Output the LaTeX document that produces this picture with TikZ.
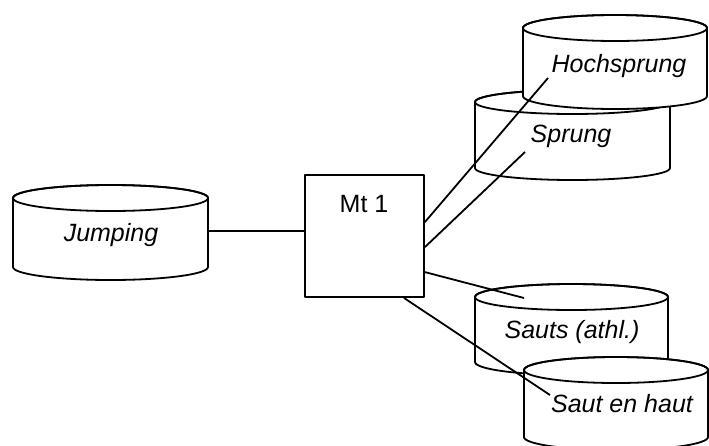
\documentclass[tikz,border=0pt]{standalone}
\usepackage{fontspec}
\setmainfont{Liberation Sans}
\usetikzlibrary{calc}

% cylinder outline: left x, right x, top-cap centre y, bottom-cap centre y, cap half-height
\newcommand\drum[5]{%
  \filldraw[fill=white]
    (#1,-#3) -- (#1,-#4)
    arc[start angle=180,end angle=360,x radius={(#2-#1)/2},y radius=#5]
    -- (#2,-#3)
    arc[start angle=0,end angle=180,x radius={(#2-#1)/2},y radius=#5] -- cycle;
  \draw ({(#1+#2)/2},-#3) ellipse[x radius={(#2-#1)/2},y radius=#5];
}

\begin{document}
\begin{tikzpicture}[x=1pt,y=1pt,line width=1.8pt,line join=round,
  lbl/.style={anchor=base,inner sep=0pt,font=\fontsize{25}{30}\selectfont\itshape},
  boxlbl/.style={anchor=base,inner sep=0pt,font=\fontsize{25}{30}\selectfont},
  hub/.style={draw,minimum width=119pt,minimum height=122pt,inner sep=0pt}]
\useasboundingbox (0,0) rectangle (709,-445);
\clip (0,0) rectangle (709,-445);

% left store
\drum{13}{208}{198}{267}{13}
\node[lbl] (jump) at (111,-241) {Jumping};

% central box
\node[hub] (mt) at (364.5,-236) {};
\node[boxlbl] (mtl) at (364,-212) {Mt 1};

% upper pair of stores
\drum{475}{670}{102}{168}{12}
\node[lbl] (sprung) at (571,-142) {Sprung};
\drum{523}{707}{28}{96}{13}
\node[lbl] (hoch) at (619,-72) {Hochsprung};

% lower pair of stores
\drum{475}{668}{297}{362}{13}
\node[lbl] (sauts) at (572,-338) {Sauts (athl.)};
\drum{524}{708}{370}{437}{13}
\node[lbl] (haut) at (622,-412) {Saut en haut};

% connector end points
\coordinate (jR) at (208,-231);
\coordinate (a1) at ($(mt.north east)+(0,-48)$);
\coordinate (a2) at ($(mt.north east)+(0,-73)$);
\coordinate (a3) at ($(mt.north east)+(0,-98)$);
\coordinate (a4) at ($(mt.south east)+(-21,0)$);
\coordinate (e1) at (548,-78);
\coordinate (e2) at (525,-152);
\coordinate (e3) at (524,-298);
\coordinate (e4) at (550,-395);

\draw (jR) -- (jR -| mt.west);
\draw (a1) -- (e1);
\draw (a2) -- (e2);
\draw (a3) -- (e3);
\draw (a4) -- (e4);
\end{tikzpicture}
\end{document}
